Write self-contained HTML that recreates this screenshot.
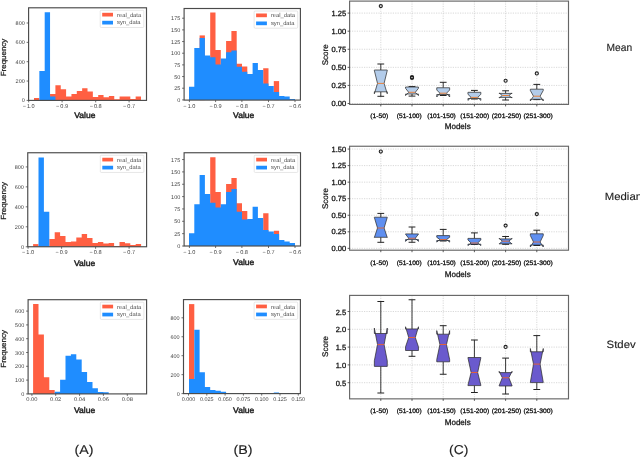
<!DOCTYPE html>
<html><head><meta charset="utf-8"><style>
html,body{margin:0;padding:0;background:#fff;width:640px;height:457px;overflow:hidden}
svg{display:block;will-change:transform}
text{font-family:"Liberation Sans", sans-serif;text-rendering:geometricPrecision}
</style></head><body>
<svg width="640" height="457" viewBox="0 0 640 457">
<rect width="640" height="457" fill="#fff"/>
<path d="M34,100.4 L34,98 L39.35,98 L39.35,100.4 Z" fill="#FF5F42"/>
<path d="M50.05,100.4 L50.05,94 L55.4,94 L55.4,85.25 L60.75,85.25 L60.75,89.25 L66.1,89.25 L66.1,96.4 L71.45,96.4 L71.45,94 L76.8,94 L76.8,91 L82.15,91 L82.15,88.25 L87.5,88.25 L87.5,91.5 L92.85,91.5 L92.85,97 L98.2,97 L98.2,94.9 L103.55,94.9 L103.55,97.25 L108.9,97.25 L108.9,96.1 L114.25,96.1 L114.25,99.25 L119.6,99.25 L119.6,96.4 L124.95,96.4 L124.95,96.4 L130.3,96.4 L130.3,99 L135.65,99 L135.65,96.4 L141,96.4 L141,100.4 Z" fill="#FF5F42"/>
<path d="M39.35,100.4 L39.35,71.1 L44.7,71.1 L44.7,12.25 L50.05,12.25 L50.05,96.4 L55.4,96.4 L55.4,100.4 Z" fill="#1F8DFF"/>
<rect x="28.6" y="7.8" width="117.9" height="92.6" fill="none" stroke="#4a4a4a" stroke-width="1.15"/>
<line x1="26.6" y1="100.4" x2="28.6" y2="100.4" stroke="#4a4a4a" stroke-width="0.8"/>
<text x="24.8" y="102.4" font-size="5.5" text-anchor="end" fill="#444">0</text>
<line x1="26.6" y1="81.05" x2="28.6" y2="81.05" stroke="#4a4a4a" stroke-width="0.8"/>
<text x="24.8" y="83.05" font-size="5.5" text-anchor="end" fill="#444">200</text>
<line x1="26.6" y1="61.7" x2="28.6" y2="61.7" stroke="#4a4a4a" stroke-width="0.8"/>
<text x="24.8" y="63.7" font-size="5.5" text-anchor="end" fill="#444">400</text>
<line x1="26.6" y1="42.35" x2="28.6" y2="42.35" stroke="#4a4a4a" stroke-width="0.8"/>
<text x="24.8" y="44.35" font-size="5.5" text-anchor="end" fill="#444">600</text>
<line x1="26.6" y1="23" x2="28.6" y2="23" stroke="#4a4a4a" stroke-width="0.8"/>
<text x="24.8" y="25" font-size="5.5" text-anchor="end" fill="#444">800</text>
<line x1="28.7" y1="100.4" x2="28.7" y2="102.4" stroke="#4a4a4a" stroke-width="0.8"/>
<text x="28.7" y="107.9" font-size="5.6" text-anchor="middle" fill="#444">−<tspan dx="1.0">1.0</tspan></text>
<line x1="62.1" y1="100.4" x2="62.1" y2="102.4" stroke="#4a4a4a" stroke-width="0.8"/>
<text x="62.1" y="107.9" font-size="5.6" text-anchor="middle" fill="#444">−<tspan dx="1.0">0.9</tspan></text>
<line x1="95.7" y1="100.4" x2="95.7" y2="102.4" stroke="#4a4a4a" stroke-width="0.8"/>
<text x="95.7" y="107.9" font-size="5.6" text-anchor="middle" fill="#444">−<tspan dx="1.0">0.8</tspan></text>
<line x1="129.1" y1="100.4" x2="129.1" y2="102.4" stroke="#4a4a4a" stroke-width="0.8"/>
<text x="129.1" y="107.9" font-size="5.6" text-anchor="middle" fill="#444">−<tspan dx="1.0">0.7</tspan></text>
<rect x="100.2" y="10.3" width="43.6" height="17.2" rx="1" fill="#fff" fill-opacity="0.85" stroke="#d6d6d6" stroke-width="0.6"/>
<rect x="102.2" y="12.8" width="10.8" height="3.7" fill="#FF5F42"/>
<rect x="102.2" y="20.8" width="10.8" height="3.7" fill="#1F8DFF"/>
<text x="117" y="16.7" font-size="5.8" text-anchor="start" fill="#505050">real_data</text>
<text x="117" y="24.3" font-size="5.8" text-anchor="start" fill="#505050">syn_data</text>
<text x="84.8" y="117.6" font-size="8.2" text-anchor="middle" fill="#222" textLength="21.2" lengthAdjust="spacingAndGlyphs" stroke="#222" stroke-width="0.42">Value</text>
<text x="0" y="0" font-size="7.4" text-anchor="middle" fill="#222" stroke="#222" stroke-width="0.25" textLength="37.6" lengthAdjust="spacingAndGlyphs" transform="translate(5.6,57.5) rotate(-90)">Frequency</text>
<path d="M33.1,246.75 L33.1,244.1 L38.5,244.1 L38.5,246.75 Z" fill="#FF5F42"/>
<path d="M49.3,246.75 L49.3,239.1 L54.7,239.1 L54.7,232.25 L60.1,232.25 L60.1,236 L65.5,236 L65.5,242 L70.9,242 L70.9,241.4 L76.3,241.4 L76.3,237.6 L81.7,237.6 L81.7,233.9 L87.1,233.9 L87.1,237.9 L92.5,237.9 L92.5,242.9 L97.9,242.9 L97.9,242 L103.3,242 L103.3,243.6 L108.7,243.6 L108.7,243 L114.1,243 L114.1,246 L119.5,246 L119.5,242 L124.9,242 L124.9,243.25 L130.3,243.25 L130.3,244.9 L135.7,244.9 L135.7,243.9 L141.1,243.9 L141.1,246.75 Z" fill="#FF5F42"/>
<path d="M38.5,246.75 L38.5,157.5 L43.9,157.5 L43.9,211.75 L49.3,211.75 L49.3,246.75 Z" fill="#1F8DFF"/>
<rect x="27.75" y="152.75" width="118.85" height="94" fill="none" stroke="#4a4a4a" stroke-width="1.15"/>
<line x1="25.75" y1="246.75" x2="27.75" y2="246.75" stroke="#4a4a4a" stroke-width="0.8"/>
<text x="23.95" y="248.75" font-size="5.5" text-anchor="end" fill="#444">0</text>
<line x1="25.75" y1="226.79" x2="27.75" y2="226.79" stroke="#4a4a4a" stroke-width="0.8"/>
<text x="23.95" y="228.79" font-size="5.5" text-anchor="end" fill="#444">200</text>
<line x1="25.75" y1="206.83" x2="27.75" y2="206.83" stroke="#4a4a4a" stroke-width="0.8"/>
<text x="23.95" y="208.83" font-size="5.5" text-anchor="end" fill="#444">400</text>
<line x1="25.75" y1="186.87" x2="27.75" y2="186.87" stroke="#4a4a4a" stroke-width="0.8"/>
<text x="23.95" y="188.87" font-size="5.5" text-anchor="end" fill="#444">600</text>
<line x1="25.75" y1="166.91" x2="27.75" y2="166.91" stroke="#4a4a4a" stroke-width="0.8"/>
<text x="23.95" y="168.91" font-size="5.5" text-anchor="end" fill="#444">800</text>
<line x1="28.1" y1="246.75" x2="28.1" y2="248.75" stroke="#4a4a4a" stroke-width="0.8"/>
<text x="28.1" y="254.25" font-size="5.6" text-anchor="middle" fill="#444">−<tspan dx="1.0">1.0</tspan></text>
<line x1="61.6" y1="246.75" x2="61.6" y2="248.75" stroke="#4a4a4a" stroke-width="0.8"/>
<text x="61.6" y="254.25" font-size="5.6" text-anchor="middle" fill="#444">−<tspan dx="1.0">0.9</tspan></text>
<line x1="95.6" y1="246.75" x2="95.6" y2="248.75" stroke="#4a4a4a" stroke-width="0.8"/>
<text x="95.6" y="254.25" font-size="5.6" text-anchor="middle" fill="#444">−<tspan dx="1.0">0.8</tspan></text>
<line x1="129.1" y1="246.75" x2="129.1" y2="248.75" stroke="#4a4a4a" stroke-width="0.8"/>
<text x="129.1" y="254.25" font-size="5.6" text-anchor="middle" fill="#444">−<tspan dx="1.0">0.7</tspan></text>
<rect x="100.3" y="155.25" width="43.6" height="17.2" rx="1" fill="#fff" fill-opacity="0.85" stroke="#d6d6d6" stroke-width="0.6"/>
<rect x="102.3" y="157.75" width="10.8" height="3.7" fill="#FF5F42"/>
<rect x="102.3" y="165.75" width="10.8" height="3.7" fill="#1F8DFF"/>
<text x="117.1" y="161.65" font-size="5.8" text-anchor="start" fill="#505050">real_data</text>
<text x="117.1" y="169.25" font-size="5.8" text-anchor="start" fill="#505050">syn_data</text>
<text x="84.6" y="265.8" font-size="8.2" text-anchor="middle" fill="#222" textLength="21.2" lengthAdjust="spacingAndGlyphs" stroke="#222" stroke-width="0.42">Value</text>
<text x="0" y="0" font-size="7.4" text-anchor="middle" fill="#222" stroke="#222" stroke-width="0.25" textLength="37.6" lengthAdjust="spacingAndGlyphs" transform="translate(5.6,200.9) rotate(-90)">Frequency</text>
<path d="M33.1,393.9 L33.1,304.1 L38.5,304.1 L38.5,334.6 L43.9,334.6 L43.9,377.25 L49.3,377.25 L49.3,390.1 L54.7,390.1 L54.7,393.9 Z" fill="#FF5F42"/>
<path d="M54.7,393.9 L54.7,391.75 L60.1,391.75 L60.1,379.75 L65.5,379.75 L65.5,355.75 L70.9,355.75 L70.9,354.25 L76.3,354.25 L76.3,359.5 L81.7,359.5 L81.7,372 L87.1,372 L87.1,382 L92.5,382 L92.5,388.25 L97.9,388.25 L97.9,392 L103.3,392 L103.3,392.25 L108.7,392.25 L108.7,393.9 Z" fill="#1F8DFF"/>
<rect x="28.1" y="299.7" width="118.5" height="94.2" fill="none" stroke="#4a4a4a" stroke-width="1.15"/>
<line x1="26.1" y1="393.9" x2="28.1" y2="393.9" stroke="#4a4a4a" stroke-width="0.8"/>
<text x="24.3" y="395.9" font-size="5.5" text-anchor="end" fill="#444">0</text>
<line x1="26.1" y1="380.1" x2="28.1" y2="380.1" stroke="#4a4a4a" stroke-width="0.8"/>
<text x="24.3" y="382.1" font-size="5.5" text-anchor="end" fill="#444">100</text>
<line x1="26.1" y1="366.3" x2="28.1" y2="366.3" stroke="#4a4a4a" stroke-width="0.8"/>
<text x="24.3" y="368.3" font-size="5.5" text-anchor="end" fill="#444">200</text>
<line x1="26.1" y1="352.5" x2="28.1" y2="352.5" stroke="#4a4a4a" stroke-width="0.8"/>
<text x="24.3" y="354.5" font-size="5.5" text-anchor="end" fill="#444">300</text>
<line x1="26.1" y1="338.7" x2="28.1" y2="338.7" stroke="#4a4a4a" stroke-width="0.8"/>
<text x="24.3" y="340.7" font-size="5.5" text-anchor="end" fill="#444">400</text>
<line x1="26.1" y1="324.9" x2="28.1" y2="324.9" stroke="#4a4a4a" stroke-width="0.8"/>
<text x="24.3" y="326.9" font-size="5.5" text-anchor="end" fill="#444">500</text>
<line x1="26.1" y1="311.1" x2="28.1" y2="311.1" stroke="#4a4a4a" stroke-width="0.8"/>
<text x="24.3" y="313.1" font-size="5.5" text-anchor="end" fill="#444">600</text>
<line x1="31.9" y1="393.9" x2="31.9" y2="395.9" stroke="#4a4a4a" stroke-width="0.8"/>
<text x="31.9" y="401.4" font-size="5.4" text-anchor="middle" fill="#444" textLength="11.2" lengthAdjust="spacingAndGlyphs">0.00</text>
<line x1="55.7" y1="393.9" x2="55.7" y2="395.9" stroke="#4a4a4a" stroke-width="0.8"/>
<text x="55.7" y="401.4" font-size="5.4" text-anchor="middle" fill="#444" textLength="11.2" lengthAdjust="spacingAndGlyphs">0.02</text>
<line x1="79.6" y1="393.9" x2="79.6" y2="395.9" stroke="#4a4a4a" stroke-width="0.8"/>
<text x="79.6" y="401.4" font-size="5.4" text-anchor="middle" fill="#444" textLength="11.2" lengthAdjust="spacingAndGlyphs">0.04</text>
<line x1="103.4" y1="393.9" x2="103.4" y2="395.9" stroke="#4a4a4a" stroke-width="0.8"/>
<text x="103.4" y="401.4" font-size="5.4" text-anchor="middle" fill="#444" textLength="11.2" lengthAdjust="spacingAndGlyphs">0.06</text>
<line x1="127.3" y1="393.9" x2="127.3" y2="395.9" stroke="#4a4a4a" stroke-width="0.8"/>
<text x="127.3" y="401.4" font-size="5.4" text-anchor="middle" fill="#444" textLength="11.2" lengthAdjust="spacingAndGlyphs">0.08</text>
<rect x="100.3" y="302.2" width="43.6" height="17.2" rx="1" fill="#fff" fill-opacity="0.85" stroke="#d6d6d6" stroke-width="0.6"/>
<rect x="102.3" y="304.7" width="10.8" height="3.7" fill="#FF5F42"/>
<rect x="102.3" y="312.7" width="10.8" height="3.7" fill="#1F8DFF"/>
<text x="117.1" y="308.6" font-size="5.8" text-anchor="start" fill="#505050">real_data</text>
<text x="117.1" y="316.2" font-size="5.8" text-anchor="start" fill="#505050">syn_data</text>
<text x="84.6" y="413.3" font-size="8.2" text-anchor="middle" fill="#222" textLength="21.2" lengthAdjust="spacingAndGlyphs" stroke="#222" stroke-width="0.42">Value</text>
<text x="0" y="0" font-size="7.4" text-anchor="middle" fill="#222" stroke="#222" stroke-width="0.25" textLength="37.6" lengthAdjust="spacingAndGlyphs" transform="translate(5.6,348.9) rotate(-90)">Frequency</text>
<path d="M199.6,100.1 L199.6,35.4 L204.9,35.4 L204.9,100.1 Z" fill="#FF5F42"/>
<path d="M210.2,100.1 L210.2,12.5 L215.5,12.5 L215.5,49.9 L220.8,49.9 L220.8,100.1 Z" fill="#FF5F42"/>
<path d="M226.1,100.1 L226.1,41 L231.4,41 L231.4,31.1 L236.7,31.1 L236.7,63.8 L242,63.8 L242,66.4 L247.3,66.4 L247.3,100.1 Z" fill="#FF5F42"/>
<path d="M263.2,100.1 L263.2,68.25 L268.5,68.25 L268.5,100.1 Z" fill="#FF5F42"/>
<path d="M273.8,100.1 L273.8,81.1 L279.1,81.1 L279.1,100.1 Z" fill="#FF5F42"/>
<path d="M189,100.1 L189,86.75 L194.3,86.75 L194.3,47.9 L199.6,47.9 L199.6,37.9 L204.9,37.9 L204.9,55.4 L210.2,55.4 L210.2,57.3 L215.5,57.3 L215.5,64.4 L220.8,64.4 L220.8,58.6 L226.1,58.6 L226.1,52.3 L231.4,52.3 L231.4,50.4 L236.7,50.4 L236.7,66.8 L242,66.8 L242,71.75 L247.3,71.75 L247.3,74.1 L252.6,74.1 L252.6,63.1 L257.9,63.1 L257.9,69.9 L263.2,69.9 L263.2,83.5 L268.5,83.5 L268.5,86 L273.8,86 L273.8,92 L279.1,92 L279.1,96 L284.4,96 L284.4,96.4 L289.7,96.4 L289.7,99 L295,99 L295,100.1 Z" fill="#1F8DFF"/>
<rect x="184.1" y="8.5" width="116.3" height="91.6" fill="none" stroke="#4a4a4a" stroke-width="1.15"/>
<line x1="182.1" y1="99.9" x2="184.1" y2="99.9" stroke="#4a4a4a" stroke-width="0.8"/>
<text x="180.3" y="101.9" font-size="5.5" text-anchor="end" fill="#444">0</text>
<line x1="182.1" y1="88.23" x2="184.1" y2="88.23" stroke="#4a4a4a" stroke-width="0.8"/>
<text x="180.3" y="90.23" font-size="5.5" text-anchor="end" fill="#444">25</text>
<line x1="182.1" y1="76.56" x2="184.1" y2="76.56" stroke="#4a4a4a" stroke-width="0.8"/>
<text x="180.3" y="78.56" font-size="5.5" text-anchor="end" fill="#444">50</text>
<line x1="182.1" y1="64.89" x2="184.1" y2="64.89" stroke="#4a4a4a" stroke-width="0.8"/>
<text x="180.3" y="66.89" font-size="5.5" text-anchor="end" fill="#444">75</text>
<line x1="182.1" y1="53.22" x2="184.1" y2="53.22" stroke="#4a4a4a" stroke-width="0.8"/>
<text x="180.3" y="55.22" font-size="5.5" text-anchor="end" fill="#444">100</text>
<line x1="182.1" y1="41.55" x2="184.1" y2="41.55" stroke="#4a4a4a" stroke-width="0.8"/>
<text x="180.3" y="43.55" font-size="5.5" text-anchor="end" fill="#444">125</text>
<line x1="182.1" y1="29.88" x2="184.1" y2="29.88" stroke="#4a4a4a" stroke-width="0.8"/>
<text x="180.3" y="31.88" font-size="5.5" text-anchor="end" fill="#444">150</text>
<line x1="182.1" y1="18.21" x2="184.1" y2="18.21" stroke="#4a4a4a" stroke-width="0.8"/>
<text x="180.3" y="20.21" font-size="5.5" text-anchor="end" fill="#444">175</text>
<line x1="189.4" y1="100.1" x2="189.4" y2="102.1" stroke="#4a4a4a" stroke-width="0.8"/>
<text x="189.4" y="107.6" font-size="5.6" text-anchor="middle" fill="#444">−<tspan dx="1.0">1.0</tspan></text>
<line x1="215.6" y1="100.1" x2="215.6" y2="102.1" stroke="#4a4a4a" stroke-width="0.8"/>
<text x="215.6" y="107.6" font-size="5.6" text-anchor="middle" fill="#444">−<tspan dx="1.0">0.9</tspan></text>
<line x1="241.9" y1="100.1" x2="241.9" y2="102.1" stroke="#4a4a4a" stroke-width="0.8"/>
<text x="241.9" y="107.6" font-size="5.6" text-anchor="middle" fill="#444">−<tspan dx="1.0">0.8</tspan></text>
<line x1="268.5" y1="100.1" x2="268.5" y2="102.1" stroke="#4a4a4a" stroke-width="0.8"/>
<text x="268.5" y="107.6" font-size="5.6" text-anchor="middle" fill="#444">−<tspan dx="1.0">0.7</tspan></text>
<line x1="295" y1="100.1" x2="295" y2="102.1" stroke="#4a4a4a" stroke-width="0.8"/>
<text x="295" y="107.6" font-size="5.6" text-anchor="middle" fill="#444">−<tspan dx="1.0">0.6</tspan></text>
<rect x="254.1" y="11" width="43.6" height="17.2" rx="1" fill="#fff" fill-opacity="0.85" stroke="#d6d6d6" stroke-width="0.6"/>
<rect x="256.1" y="13.5" width="10.8" height="3.7" fill="#FF5F42"/>
<rect x="256.1" y="21.5" width="10.8" height="3.7" fill="#1F8DFF"/>
<text x="270.9" y="17.4" font-size="5.8" text-anchor="start" fill="#505050">real_data</text>
<text x="270.9" y="25" font-size="5.8" text-anchor="start" fill="#505050">syn_data</text>
<text x="243.7" y="117.6" font-size="8.2" text-anchor="middle" fill="#222" textLength="21.2" lengthAdjust="spacingAndGlyphs" stroke="#222" stroke-width="0.42">Value</text>
<text x="0" y="0" font-size="7.4" text-anchor="middle" fill="#222" stroke="#222" stroke-width="0.25" textLength="37.6" lengthAdjust="spacingAndGlyphs" transform="translate(5.6,-100) rotate(-90)">Frequency</text>
<path d="M210.2,246 L210.2,157.25 L215.5,157.25 L215.5,192.1 L220.8,192.1 L220.8,246 Z" fill="#FF5F42"/>
<path d="M226.1,246 L226.1,183.9 L231.4,183.9 L231.4,178 L236.7,178 L236.7,203.25 L242,203.25 L242,211.1 L247.3,211.1 L247.3,246 Z" fill="#FF5F42"/>
<path d="M263.2,246 L263.2,213.25 L268.5,213.25 L268.5,246 Z" fill="#FF5F42"/>
<path d="M273.8,246 L273.8,230.75 L279.1,230.75 L279.1,246 Z" fill="#FF5F42"/>
<path d="M189,246 L189,233.25 L194.3,233.25 L194.3,204.25 L199.6,204.25 L199.6,175.1 L204.9,175.1 L204.9,194.1 L210.2,194.1 L210.2,202.7 L215.5,202.7 L215.5,207.6 L220.8,207.6 L220.8,204.3 L226.1,204.3 L226.1,192.1 L231.4,192.1 L231.4,189.1 L236.7,189.1 L236.7,211.75 L242,211.75 L242,219.5 L247.3,219.5 L247.3,218.9 L252.6,218.9 L252.6,206.8 L257.9,206.8 L257.9,218 L263.2,218 L263.2,230.1 L268.5,230.1 L268.5,231.4 L273.8,231.4 L273.8,233.9 L279.1,233.9 L279.1,240.1 L284.4,240.1 L284.4,241.4 L289.7,241.4 L289.7,243 L295,243 L295,246 Z" fill="#1F8DFF"/>
<rect x="184.1" y="152.75" width="116.4" height="93.25" fill="none" stroke="#4a4a4a" stroke-width="1.15"/>
<line x1="182.1" y1="246" x2="184.1" y2="246" stroke="#4a4a4a" stroke-width="0.8"/>
<text x="180.3" y="248" font-size="5.5" text-anchor="end" fill="#444">0</text>
<line x1="182.1" y1="233.65" x2="184.1" y2="233.65" stroke="#4a4a4a" stroke-width="0.8"/>
<text x="180.3" y="235.65" font-size="5.5" text-anchor="end" fill="#444">25</text>
<line x1="182.1" y1="221.3" x2="184.1" y2="221.3" stroke="#4a4a4a" stroke-width="0.8"/>
<text x="180.3" y="223.3" font-size="5.5" text-anchor="end" fill="#444">50</text>
<line x1="182.1" y1="208.95" x2="184.1" y2="208.95" stroke="#4a4a4a" stroke-width="0.8"/>
<text x="180.3" y="210.95" font-size="5.5" text-anchor="end" fill="#444">75</text>
<line x1="182.1" y1="196.6" x2="184.1" y2="196.6" stroke="#4a4a4a" stroke-width="0.8"/>
<text x="180.3" y="198.6" font-size="5.5" text-anchor="end" fill="#444">100</text>
<line x1="182.1" y1="184.25" x2="184.1" y2="184.25" stroke="#4a4a4a" stroke-width="0.8"/>
<text x="180.3" y="186.25" font-size="5.5" text-anchor="end" fill="#444">125</text>
<line x1="182.1" y1="171.9" x2="184.1" y2="171.9" stroke="#4a4a4a" stroke-width="0.8"/>
<text x="180.3" y="173.9" font-size="5.5" text-anchor="end" fill="#444">150</text>
<line x1="182.1" y1="159.55" x2="184.1" y2="159.55" stroke="#4a4a4a" stroke-width="0.8"/>
<text x="180.3" y="161.55" font-size="5.5" text-anchor="end" fill="#444">175</text>
<line x1="189.4" y1="246" x2="189.4" y2="248" stroke="#4a4a4a" stroke-width="0.8"/>
<text x="189.4" y="253.5" font-size="5.6" text-anchor="middle" fill="#444">−<tspan dx="1.0">1.0</tspan></text>
<line x1="215.6" y1="246" x2="215.6" y2="248" stroke="#4a4a4a" stroke-width="0.8"/>
<text x="215.6" y="253.5" font-size="5.6" text-anchor="middle" fill="#444">−<tspan dx="1.0">0.9</tspan></text>
<line x1="241.9" y1="246" x2="241.9" y2="248" stroke="#4a4a4a" stroke-width="0.8"/>
<text x="241.9" y="253.5" font-size="5.6" text-anchor="middle" fill="#444">−<tspan dx="1.0">0.8</tspan></text>
<line x1="268.5" y1="246" x2="268.5" y2="248" stroke="#4a4a4a" stroke-width="0.8"/>
<text x="268.5" y="253.5" font-size="5.6" text-anchor="middle" fill="#444">−<tspan dx="1.0">0.7</tspan></text>
<line x1="295" y1="246" x2="295" y2="248" stroke="#4a4a4a" stroke-width="0.8"/>
<text x="295" y="253.5" font-size="5.6" text-anchor="middle" fill="#444">−<tspan dx="1.0">0.6</tspan></text>
<rect x="254.2" y="155.25" width="43.6" height="17.2" rx="1" fill="#fff" fill-opacity="0.85" stroke="#d6d6d6" stroke-width="0.6"/>
<rect x="256.2" y="157.75" width="10.8" height="3.7" fill="#FF5F42"/>
<rect x="256.2" y="165.75" width="10.8" height="3.7" fill="#1F8DFF"/>
<text x="271" y="161.65" font-size="5.8" text-anchor="start" fill="#505050">real_data</text>
<text x="271" y="169.25" font-size="5.8" text-anchor="start" fill="#505050">syn_data</text>
<text x="243.7" y="265.2" font-size="8.2" text-anchor="middle" fill="#222" textLength="21.2" lengthAdjust="spacingAndGlyphs" stroke="#222" stroke-width="0.42">Value</text>
<text x="0" y="0" font-size="7.4" text-anchor="middle" fill="#222" stroke="#222" stroke-width="0.25" textLength="37.6" lengthAdjust="spacingAndGlyphs" transform="translate(5.6,-100) rotate(-90)">Frequency</text>
<path d="M189,393.6 L189,304.1 L194.3,304.1 L194.3,393.6 Z" fill="#FF5F42"/>
<path d="M189,393.6 L189,378.9 L194.3,378.9 L194.3,329.75 L199.6,329.75 L199.6,372.25 L204.9,372.25 L204.9,387 L210.2,387 L210.2,390.1 L215.5,390.1 L215.5,390.75 L220.8,390.75 L220.8,391.75 L226.1,391.75 L226.1,393 L231.4,393 L231.4,393.1 L236.7,393.1 L236.7,393.1 L242,393.1 L242,393.2 L247.3,393.2 L247.3,393.2 L252.6,393.2 L252.6,393.2 L257.9,393.2 L257.9,393.2 L263.2,393.2 L263.2,393.2 L268.5,393.2 L268.5,393.2 L273.8,393.2 L273.8,392.6 L279.1,392.6 L279.1,393.2 L284.4,393.2 L284.4,393.1 L289.7,393.1 L289.7,393.2 L295,393.2 L295,393.6 Z" fill="#1F8DFF"/>
<rect x="183.5" y="299.6" width="116.9" height="94" fill="none" stroke="#4a4a4a" stroke-width="1.15"/>
<line x1="181.5" y1="393.6" x2="183.5" y2="393.6" stroke="#4a4a4a" stroke-width="0.8"/>
<text x="179.7" y="395.6" font-size="5.5" text-anchor="end" fill="#444">0</text>
<line x1="181.5" y1="374.65" x2="183.5" y2="374.65" stroke="#4a4a4a" stroke-width="0.8"/>
<text x="179.7" y="376.65" font-size="5.5" text-anchor="end" fill="#444">200</text>
<line x1="181.5" y1="355.7" x2="183.5" y2="355.7" stroke="#4a4a4a" stroke-width="0.8"/>
<text x="179.7" y="357.7" font-size="5.5" text-anchor="end" fill="#444">400</text>
<line x1="181.5" y1="336.75" x2="183.5" y2="336.75" stroke="#4a4a4a" stroke-width="0.8"/>
<text x="179.7" y="338.75" font-size="5.5" text-anchor="end" fill="#444">600</text>
<line x1="181.5" y1="317.8" x2="183.5" y2="317.8" stroke="#4a4a4a" stroke-width="0.8"/>
<text x="179.7" y="319.8" font-size="5.5" text-anchor="end" fill="#444">800</text>
<line x1="188.5" y1="393.6" x2="188.5" y2="395.6" stroke="#4a4a4a" stroke-width="0.8"/>
<text x="188.5" y="401.1" font-size="5.4" text-anchor="middle" fill="#444" textLength="13.6" lengthAdjust="spacingAndGlyphs">0.000</text>
<line x1="206.8" y1="393.6" x2="206.8" y2="395.6" stroke="#4a4a4a" stroke-width="0.8"/>
<text x="206.8" y="401.1" font-size="5.4" text-anchor="middle" fill="#444" textLength="13.6" lengthAdjust="spacingAndGlyphs">0.025</text>
<line x1="225.1" y1="393.6" x2="225.1" y2="395.6" stroke="#4a4a4a" stroke-width="0.8"/>
<text x="225.1" y="401.1" font-size="5.4" text-anchor="middle" fill="#444" textLength="13.6" lengthAdjust="spacingAndGlyphs">0.050</text>
<line x1="243.4" y1="393.6" x2="243.4" y2="395.6" stroke="#4a4a4a" stroke-width="0.8"/>
<text x="243.4" y="401.1" font-size="5.4" text-anchor="middle" fill="#444" textLength="13.6" lengthAdjust="spacingAndGlyphs">0.075</text>
<line x1="261.7" y1="393.6" x2="261.7" y2="395.6" stroke="#4a4a4a" stroke-width="0.8"/>
<text x="261.7" y="401.1" font-size="5.4" text-anchor="middle" fill="#444" textLength="13.6" lengthAdjust="spacingAndGlyphs">0.100</text>
<line x1="280" y1="393.6" x2="280" y2="395.6" stroke="#4a4a4a" stroke-width="0.8"/>
<text x="280" y="401.1" font-size="5.4" text-anchor="middle" fill="#444" textLength="13.6" lengthAdjust="spacingAndGlyphs">0.125</text>
<line x1="298.3" y1="393.6" x2="298.3" y2="395.6" stroke="#4a4a4a" stroke-width="0.8"/>
<text x="298.3" y="401.1" font-size="5.4" text-anchor="middle" fill="#444" textLength="13.6" lengthAdjust="spacingAndGlyphs">0.150</text>
<rect x="254.1" y="302.1" width="43.6" height="17.2" rx="1" fill="#fff" fill-opacity="0.85" stroke="#d6d6d6" stroke-width="0.6"/>
<rect x="256.1" y="304.6" width="10.8" height="3.7" fill="#FF5F42"/>
<rect x="256.1" y="312.6" width="10.8" height="3.7" fill="#1F8DFF"/>
<text x="270.9" y="308.5" font-size="5.8" text-anchor="start" fill="#505050">real_data</text>
<text x="270.9" y="316.1" font-size="5.8" text-anchor="start" fill="#505050">syn_data</text>
<text x="243.7" y="413.3" font-size="8.2" text-anchor="middle" fill="#222" textLength="21.2" lengthAdjust="spacingAndGlyphs" stroke="#222" stroke-width="0.42">Value</text>
<text x="0" y="0" font-size="7.4" text-anchor="middle" fill="#222" stroke="#222" stroke-width="0.25" textLength="37.6" lengthAdjust="spacingAndGlyphs" transform="translate(5.6,-100) rotate(-90)">Frequency</text>
<line x1="349.6" y1="103.5" x2="568.5" y2="103.5" stroke="#c8c8c8" stroke-width="0.7" stroke-dasharray="1.2,1.2"/>
<line x1="349.6" y1="85.42" x2="568.5" y2="85.42" stroke="#c8c8c8" stroke-width="0.7" stroke-dasharray="1.2,1.2"/>
<line x1="349.6" y1="67.34" x2="568.5" y2="67.34" stroke="#c8c8c8" stroke-width="0.7" stroke-dasharray="1.2,1.2"/>
<line x1="349.6" y1="49.26" x2="568.5" y2="49.26" stroke="#c8c8c8" stroke-width="0.7" stroke-dasharray="1.2,1.2"/>
<line x1="349.6" y1="31.18" x2="568.5" y2="31.18" stroke="#c8c8c8" stroke-width="0.7" stroke-dasharray="1.2,1.2"/>
<line x1="349.6" y1="13.1" x2="568.5" y2="13.1" stroke="#c8c8c8" stroke-width="0.7" stroke-dasharray="1.2,1.2"/>
<line x1="380.8" y1="1.1" x2="380.8" y2="104.4" stroke="#c8c8c8" stroke-width="0.7" stroke-dasharray="1.2,1.2"/>
<line x1="412" y1="1.1" x2="412" y2="104.4" stroke="#c8c8c8" stroke-width="0.7" stroke-dasharray="1.2,1.2"/>
<line x1="443.2" y1="1.1" x2="443.2" y2="104.4" stroke="#c8c8c8" stroke-width="0.7" stroke-dasharray="1.2,1.2"/>
<line x1="474.4" y1="1.1" x2="474.4" y2="104.4" stroke="#c8c8c8" stroke-width="0.7" stroke-dasharray="1.2,1.2"/>
<line x1="505.6" y1="1.1" x2="505.6" y2="104.4" stroke="#c8c8c8" stroke-width="0.7" stroke-dasharray="1.2,1.2"/>
<line x1="536.8" y1="1.1" x2="536.8" y2="104.4" stroke="#c8c8c8" stroke-width="0.7" stroke-dasharray="1.2,1.2"/>
<line x1="380.8" y1="64" x2="380.8" y2="70" stroke="#222" stroke-width="0.9"/>
<line x1="380.8" y1="91.8" x2="380.8" y2="96.3" stroke="#222" stroke-width="0.9"/>
<line x1="377.4" y1="64" x2="384.2" y2="64" stroke="#222" stroke-width="1"/>
<line x1="377.4" y1="96.3" x2="384.2" y2="96.3" stroke="#222" stroke-width="1"/>
<polygon points="374.35,91.8 374.35,93.8 377.5,83.4 374.35,70.5 374.35,70 387.25,70 387.25,70.5 384.1,83.4 387.25,93.8 387.25,91.8" fill="#B3CCEA" stroke="#2a2a2a" stroke-width="0.72" stroke-linejoin="miter"/>
<line x1="377.5" y1="83.4" x2="384.1" y2="83.4" stroke="#E8823C" stroke-width="1"/>
<circle cx="380.8" cy="6.1" r="1.55" fill="none" stroke="#222" stroke-width="1.15"/>
<line x1="412" y1="86.6" x2="412" y2="87" stroke="#222" stroke-width="0.9"/>
<line x1="412" y1="94" x2="412" y2="96.1" stroke="#222" stroke-width="0.9"/>
<line x1="408.6" y1="86.6" x2="415.4" y2="86.6" stroke="#222" stroke-width="1"/>
<line x1="408.6" y1="96.1" x2="415.4" y2="96.1" stroke="#222" stroke-width="1"/>
<polygon points="405.55,94 405.55,95.6 408.7,92.3 405.55,88.3 405.55,87 418.45,87 418.45,88.3 415.3,92.3 418.45,95.6 418.45,94" fill="#B3CCEA" stroke="#2a2a2a" stroke-width="0.72" stroke-linejoin="miter"/>
<line x1="408.7" y1="92.3" x2="415.3" y2="92.3" stroke="#E8823C" stroke-width="1"/>
<circle cx="412" cy="77.9" r="1.55" fill="none" stroke="#222" stroke-width="1.15"/>
<circle cx="412" cy="77.1" r="1.55" fill="none" stroke="#222" stroke-width="1.15"/>
<line x1="443.2" y1="82.3" x2="443.2" y2="87.75" stroke="#222" stroke-width="0.9"/>
<line x1="443.2" y1="94.5" x2="443.2" y2="95.5" stroke="#222" stroke-width="0.9"/>
<line x1="439.8" y1="82.3" x2="446.6" y2="82.3" stroke="#222" stroke-width="1"/>
<line x1="439.8" y1="95.5" x2="446.6" y2="95.5" stroke="#222" stroke-width="1"/>
<polygon points="436.75,94.5 436.75,97 439.9,93.2 436.75,90 436.75,87.75 449.65,87.75 449.65,90 446.5,93.2 449.65,97 449.65,94.5" fill="#B3CCEA" stroke="#2a2a2a" stroke-width="0.72" stroke-linejoin="miter"/>
<line x1="439.9" y1="93.2" x2="446.5" y2="93.2" stroke="#E8823C" stroke-width="1"/>
<line x1="474.4" y1="90.4" x2="474.4" y2="92.3" stroke="#222" stroke-width="0.9"/>
<line x1="474.4" y1="98.5" x2="474.4" y2="99" stroke="#222" stroke-width="0.9"/>
<line x1="471" y1="90.4" x2="477.8" y2="90.4" stroke="#222" stroke-width="1"/>
<line x1="471" y1="99" x2="477.8" y2="99" stroke="#222" stroke-width="1"/>
<polygon points="467.95,98.5 467.95,100.4 471.1,97.4 467.95,94.3 467.95,92.3 480.85,92.3 480.85,94.3 477.7,97.4 480.85,100.4 480.85,98.5" fill="#B3CCEA" stroke="#2a2a2a" stroke-width="0.72" stroke-linejoin="miter"/>
<line x1="471.1" y1="97.4" x2="477.7" y2="97.4" stroke="#E8823C" stroke-width="1"/>
<line x1="505.6" y1="90.8" x2="505.6" y2="93.4" stroke="#222" stroke-width="0.9"/>
<line x1="505.6" y1="97.4" x2="505.6" y2="100" stroke="#222" stroke-width="0.9"/>
<line x1="502.2" y1="90.8" x2="509" y2="90.8" stroke="#222" stroke-width="1"/>
<line x1="502.2" y1="100" x2="509" y2="100" stroke="#222" stroke-width="1"/>
<polygon points="499.15,97.4 499.15,98 502.3,95.5 499.15,93 499.15,93.4 512.05,93.4 512.05,93 508.9,95.5 512.05,98 512.05,97.4" fill="#B3CCEA" stroke="#2a2a2a" stroke-width="0.72" stroke-linejoin="miter"/>
<line x1="502.3" y1="95.5" x2="508.9" y2="95.5" stroke="#E8823C" stroke-width="1"/>
<circle cx="505.6" cy="80.75" r="1.55" fill="none" stroke="#222" stroke-width="1.15"/>
<line x1="536.8" y1="84.4" x2="536.8" y2="89.2" stroke="#222" stroke-width="0.9"/>
<line x1="536.8" y1="99.3" x2="536.8" y2="99.6" stroke="#222" stroke-width="0.9"/>
<line x1="533.4" y1="84.4" x2="540.2" y2="84.4" stroke="#222" stroke-width="1"/>
<line x1="533.4" y1="99.6" x2="540.2" y2="99.6" stroke="#222" stroke-width="1"/>
<polygon points="530.35,99.3 530.35,101 533.5,96.2 530.35,90.5 530.35,89.2 543.25,89.2 543.25,90.5 540.1,96.2 543.25,101 543.25,99.3" fill="#B3CCEA" stroke="#2a2a2a" stroke-width="0.72" stroke-linejoin="miter"/>
<line x1="533.5" y1="96.2" x2="540.1" y2="96.2" stroke="#E8823C" stroke-width="1"/>
<circle cx="536.8" cy="73.4" r="1.55" fill="none" stroke="#222" stroke-width="1.15"/>
<rect x="349.6" y="1.1" width="218.9" height="103.3" fill="none" stroke="#666" stroke-width="1.15"/>
<line x1="347.6" y1="103.5" x2="349.6" y2="103.5" stroke="#333" stroke-width="0.8"/>
<text x="346.1" y="106.15" font-size="7.5" text-anchor="end" fill="#111" stroke="#111" stroke-width="0.28">0.00</text>
<line x1="347.6" y1="85.42" x2="349.6" y2="85.42" stroke="#333" stroke-width="0.8"/>
<text x="346.1" y="88.07" font-size="7.5" text-anchor="end" fill="#111" stroke="#111" stroke-width="0.28">0.25</text>
<line x1="347.6" y1="67.34" x2="349.6" y2="67.34" stroke="#333" stroke-width="0.8"/>
<text x="346.1" y="69.99" font-size="7.5" text-anchor="end" fill="#111" stroke="#111" stroke-width="0.28">0.50</text>
<line x1="347.6" y1="49.26" x2="349.6" y2="49.26" stroke="#333" stroke-width="0.8"/>
<text x="346.1" y="51.91" font-size="7.5" text-anchor="end" fill="#111" stroke="#111" stroke-width="0.28">0.75</text>
<line x1="347.6" y1="31.18" x2="349.6" y2="31.18" stroke="#333" stroke-width="0.8"/>
<text x="346.1" y="33.83" font-size="7.5" text-anchor="end" fill="#111" stroke="#111" stroke-width="0.28">1.00</text>
<line x1="347.6" y1="13.1" x2="349.6" y2="13.1" stroke="#333" stroke-width="0.8"/>
<text x="346.1" y="15.75" font-size="7.5" text-anchor="end" fill="#111" stroke="#111" stroke-width="0.28">1.25</text>
<line x1="380.8" y1="104.4" x2="380.8" y2="106.4" stroke="#333" stroke-width="0.8"/>
<line x1="412" y1="104.4" x2="412" y2="106.4" stroke="#333" stroke-width="0.8"/>
<line x1="443.2" y1="104.4" x2="443.2" y2="106.4" stroke="#333" stroke-width="0.8"/>
<line x1="474.4" y1="104.4" x2="474.4" y2="106.4" stroke="#333" stroke-width="0.8"/>
<line x1="505.6" y1="104.4" x2="505.6" y2="106.4" stroke="#333" stroke-width="0.8"/>
<line x1="536.8" y1="104.4" x2="536.8" y2="106.4" stroke="#333" stroke-width="0.8"/>
<text x="379.3" y="118.1" font-size="6.4" text-anchor="middle" fill="#111" textLength="18" lengthAdjust="spacingAndGlyphs" stroke="#111" stroke-width="0.28">(1-50)</text>
<text x="409.25" y="118.1" font-size="6.4" text-anchor="middle" fill="#111" textLength="24.9" lengthAdjust="spacingAndGlyphs" stroke="#111" stroke-width="0.28">(51-100)</text>
<text x="441.5" y="118.1" font-size="6.4" text-anchor="middle" fill="#111" textLength="28.6" lengthAdjust="spacingAndGlyphs" stroke="#111" stroke-width="0.28">(101-150)</text>
<text x="474.75" y="118.1" font-size="6.4" text-anchor="middle" fill="#111" textLength="28.9" lengthAdjust="spacingAndGlyphs" stroke="#111" stroke-width="0.28">(151-200)</text>
<text x="506.6" y="118.1" font-size="6.4" text-anchor="middle" fill="#111" textLength="29.6" lengthAdjust="spacingAndGlyphs" stroke="#111" stroke-width="0.28">(201-250)</text>
<text x="538.1" y="118.1" font-size="6.4" text-anchor="middle" fill="#111" textLength="29.4" lengthAdjust="spacingAndGlyphs" stroke="#111" stroke-width="0.28">(251-300)</text>
<text x="457.7" y="129.3" font-size="8" text-anchor="middle" fill="#222" textLength="26" lengthAdjust="spacingAndGlyphs" stroke="#111" stroke-width="0.28">Models</text>
<text x="0" y="0" font-size="8.1" text-anchor="middle" fill="#222" stroke="#222" stroke-width="0.25" textLength="21" lengthAdjust="spacingAndGlyphs" transform="translate(327.9,54.8) rotate(-90)">Score</text>
<line x1="349.6" y1="248.35" x2="568.5" y2="248.35" stroke="#c8c8c8" stroke-width="0.7" stroke-dasharray="1.2,1.2"/>
<line x1="349.6" y1="231.8" x2="568.5" y2="231.8" stroke="#c8c8c8" stroke-width="0.7" stroke-dasharray="1.2,1.2"/>
<line x1="349.6" y1="215.25" x2="568.5" y2="215.25" stroke="#c8c8c8" stroke-width="0.7" stroke-dasharray="1.2,1.2"/>
<line x1="349.6" y1="198.7" x2="568.5" y2="198.7" stroke="#c8c8c8" stroke-width="0.7" stroke-dasharray="1.2,1.2"/>
<line x1="349.6" y1="182.15" x2="568.5" y2="182.15" stroke="#c8c8c8" stroke-width="0.7" stroke-dasharray="1.2,1.2"/>
<line x1="349.6" y1="165.6" x2="568.5" y2="165.6" stroke="#c8c8c8" stroke-width="0.7" stroke-dasharray="1.2,1.2"/>
<line x1="349.6" y1="149.05" x2="568.5" y2="149.05" stroke="#c8c8c8" stroke-width="0.7" stroke-dasharray="1.2,1.2"/>
<line x1="380.8" y1="146.25" x2="380.8" y2="250.2" stroke="#c8c8c8" stroke-width="0.7" stroke-dasharray="1.2,1.2"/>
<line x1="412" y1="146.25" x2="412" y2="250.2" stroke="#c8c8c8" stroke-width="0.7" stroke-dasharray="1.2,1.2"/>
<line x1="443.2" y1="146.25" x2="443.2" y2="250.2" stroke="#c8c8c8" stroke-width="0.7" stroke-dasharray="1.2,1.2"/>
<line x1="474.4" y1="146.25" x2="474.4" y2="250.2" stroke="#c8c8c8" stroke-width="0.7" stroke-dasharray="1.2,1.2"/>
<line x1="505.6" y1="146.25" x2="505.6" y2="250.2" stroke="#c8c8c8" stroke-width="0.7" stroke-dasharray="1.2,1.2"/>
<line x1="536.8" y1="146.25" x2="536.8" y2="250.2" stroke="#c8c8c8" stroke-width="0.7" stroke-dasharray="1.2,1.2"/>
<line x1="380.8" y1="213.4" x2="380.8" y2="217.2" stroke="#222" stroke-width="0.9"/>
<line x1="380.8" y1="237.3" x2="380.8" y2="242.3" stroke="#222" stroke-width="0.9"/>
<line x1="377.4" y1="213.4" x2="384.2" y2="213.4" stroke="#222" stroke-width="1"/>
<line x1="377.4" y1="242.3" x2="384.2" y2="242.3" stroke="#222" stroke-width="1"/>
<polygon points="374.35,237.3 374.35,237.5 377.5,228 374.35,217.5 374.35,217.2 387.25,217.2 387.25,217.5 384.1,228 387.25,237.5 387.25,237.3" fill="#5F8FF0" stroke="#2a2a2a" stroke-width="0.72" stroke-linejoin="miter"/>
<line x1="377.5" y1="228" x2="384.1" y2="228" stroke="#D86A40" stroke-width="1"/>
<circle cx="380.8" cy="151.5" r="1.55" fill="none" stroke="#222" stroke-width="1.15"/>
<line x1="412" y1="227" x2="412" y2="233.9" stroke="#222" stroke-width="0.9"/>
<line x1="412" y1="239.6" x2="412" y2="242.25" stroke="#222" stroke-width="0.9"/>
<line x1="408.6" y1="227" x2="415.4" y2="227" stroke="#222" stroke-width="1"/>
<line x1="408.6" y1="242.25" x2="415.4" y2="242.25" stroke="#222" stroke-width="1"/>
<polygon points="405.55,239.6 405.55,241.4 408.7,238.25 405.55,234.2 405.55,233.9 418.45,233.9 418.45,234.2 415.3,238.25 418.45,241.4 418.45,239.6" fill="#5F8FF0" stroke="#2a2a2a" stroke-width="0.72" stroke-linejoin="miter"/>
<line x1="408.7" y1="238.25" x2="415.3" y2="238.25" stroke="#D86A40" stroke-width="1"/>
<line x1="443.2" y1="229.4" x2="443.2" y2="235.6" stroke="#222" stroke-width="0.9"/>
<line x1="443.2" y1="240.5" x2="443.2" y2="241" stroke="#222" stroke-width="0.9"/>
<line x1="439.8" y1="229.4" x2="446.6" y2="229.4" stroke="#222" stroke-width="1"/>
<line x1="439.8" y1="241" x2="446.6" y2="241" stroke="#222" stroke-width="1"/>
<polygon points="436.75,240.5 436.75,242.1 439.9,239.5 436.75,237.3 436.75,235.6 449.65,235.6 449.65,237.3 446.5,239.5 449.65,242.1 449.65,240.5" fill="#5F8FF0" stroke="#2a2a2a" stroke-width="0.72" stroke-linejoin="miter"/>
<line x1="439.9" y1="239.5" x2="446.5" y2="239.5" stroke="#D86A40" stroke-width="1"/>
<line x1="474.4" y1="232.9" x2="474.4" y2="238.4" stroke="#222" stroke-width="0.9"/>
<line x1="474.4" y1="244.2" x2="474.4" y2="244.5" stroke="#222" stroke-width="0.9"/>
<line x1="471" y1="232.9" x2="477.8" y2="232.9" stroke="#222" stroke-width="1"/>
<line x1="471" y1="244.5" x2="477.8" y2="244.5" stroke="#222" stroke-width="1"/>
<polygon points="467.95,244.2 467.95,245.6 471.1,243 467.95,240 467.95,238.4 480.85,238.4 480.85,240 477.7,243 480.85,245.6 480.85,244.2" fill="#5F8FF0" stroke="#2a2a2a" stroke-width="0.72" stroke-linejoin="miter"/>
<line x1="471.1" y1="243" x2="477.7" y2="243" stroke="#D86A40" stroke-width="1"/>
<line x1="505.6" y1="236.5" x2="505.6" y2="238.9" stroke="#222" stroke-width="0.9"/>
<line x1="505.6" y1="243.8" x2="505.6" y2="244.3" stroke="#222" stroke-width="0.9"/>
<line x1="502.2" y1="236.5" x2="509" y2="236.5" stroke="#222" stroke-width="1"/>
<line x1="502.2" y1="244.3" x2="509" y2="244.3" stroke="#222" stroke-width="1"/>
<polygon points="499.15,243.8 499.15,244 502.3,241.2 499.15,238.3 499.15,238.9 512.05,238.9 512.05,238.3 508.9,241.2 512.05,244 512.05,243.8" fill="#5F8FF0" stroke="#2a2a2a" stroke-width="0.72" stroke-linejoin="miter"/>
<line x1="502.3" y1="241.2" x2="508.9" y2="241.2" stroke="#D86A40" stroke-width="1"/>
<circle cx="505.6" cy="225.6" r="1.55" fill="none" stroke="#222" stroke-width="1.15"/>
<line x1="536.8" y1="230.2" x2="536.8" y2="233.8" stroke="#222" stroke-width="0.9"/>
<line x1="536.8" y1="245" x2="536.8" y2="245.5" stroke="#222" stroke-width="0.9"/>
<line x1="533.4" y1="230.2" x2="540.2" y2="230.2" stroke="#222" stroke-width="1"/>
<line x1="533.4" y1="245.5" x2="540.2" y2="245.5" stroke="#222" stroke-width="1"/>
<polygon points="530.35,245 530.35,247 533.5,242 530.35,235.6 530.35,233.8 543.25,233.8 543.25,235.6 540.1,242 543.25,247 543.25,245" fill="#5F8FF0" stroke="#2a2a2a" stroke-width="0.72" stroke-linejoin="miter"/>
<line x1="533.5" y1="242" x2="540.1" y2="242" stroke="#D86A40" stroke-width="1"/>
<circle cx="536.8" cy="214.1" r="1.55" fill="none" stroke="#222" stroke-width="1.15"/>
<rect x="349.6" y="146.25" width="218.9" height="103.95" fill="none" stroke="#666" stroke-width="1.15"/>
<line x1="347.6" y1="248.35" x2="349.6" y2="248.35" stroke="#333" stroke-width="0.8"/>
<text x="346.1" y="251" font-size="7.5" text-anchor="end" fill="#111" stroke="#111" stroke-width="0.28">0.00</text>
<line x1="347.6" y1="231.8" x2="349.6" y2="231.8" stroke="#333" stroke-width="0.8"/>
<text x="346.1" y="234.45" font-size="7.5" text-anchor="end" fill="#111" stroke="#111" stroke-width="0.28">0.25</text>
<line x1="347.6" y1="215.25" x2="349.6" y2="215.25" stroke="#333" stroke-width="0.8"/>
<text x="346.1" y="217.9" font-size="7.5" text-anchor="end" fill="#111" stroke="#111" stroke-width="0.28">0.50</text>
<line x1="347.6" y1="198.7" x2="349.6" y2="198.7" stroke="#333" stroke-width="0.8"/>
<text x="346.1" y="201.35" font-size="7.5" text-anchor="end" fill="#111" stroke="#111" stroke-width="0.28">0.75</text>
<line x1="347.6" y1="182.15" x2="349.6" y2="182.15" stroke="#333" stroke-width="0.8"/>
<text x="346.1" y="184.8" font-size="7.5" text-anchor="end" fill="#111" stroke="#111" stroke-width="0.28">1.00</text>
<line x1="347.6" y1="165.6" x2="349.6" y2="165.6" stroke="#333" stroke-width="0.8"/>
<text x="346.1" y="168.25" font-size="7.5" text-anchor="end" fill="#111" stroke="#111" stroke-width="0.28">1.25</text>
<line x1="347.6" y1="149.05" x2="349.6" y2="149.05" stroke="#333" stroke-width="0.8"/>
<text x="346.1" y="151.7" font-size="7.5" text-anchor="end" fill="#111" stroke="#111" stroke-width="0.28">1.50</text>
<line x1="380.8" y1="250.2" x2="380.8" y2="252.2" stroke="#333" stroke-width="0.8"/>
<line x1="412" y1="250.2" x2="412" y2="252.2" stroke="#333" stroke-width="0.8"/>
<line x1="443.2" y1="250.2" x2="443.2" y2="252.2" stroke="#333" stroke-width="0.8"/>
<line x1="474.4" y1="250.2" x2="474.4" y2="252.2" stroke="#333" stroke-width="0.8"/>
<line x1="505.6" y1="250.2" x2="505.6" y2="252.2" stroke="#333" stroke-width="0.8"/>
<line x1="536.8" y1="250.2" x2="536.8" y2="252.2" stroke="#333" stroke-width="0.8"/>
<text x="379.3" y="265.3" font-size="6.4" text-anchor="middle" fill="#111" textLength="18" lengthAdjust="spacingAndGlyphs" stroke="#111" stroke-width="0.28">(1-50)</text>
<text x="409.25" y="265.3" font-size="6.4" text-anchor="middle" fill="#111" textLength="24.9" lengthAdjust="spacingAndGlyphs" stroke="#111" stroke-width="0.28">(51-100)</text>
<text x="441.5" y="265.3" font-size="6.4" text-anchor="middle" fill="#111" textLength="28.6" lengthAdjust="spacingAndGlyphs" stroke="#111" stroke-width="0.28">(101-150)</text>
<text x="474.75" y="265.3" font-size="6.4" text-anchor="middle" fill="#111" textLength="28.9" lengthAdjust="spacingAndGlyphs" stroke="#111" stroke-width="0.28">(151-200)</text>
<text x="506.6" y="265.3" font-size="6.4" text-anchor="middle" fill="#111" textLength="29.6" lengthAdjust="spacingAndGlyphs" stroke="#111" stroke-width="0.28">(201-250)</text>
<text x="538.1" y="265.3" font-size="6.4" text-anchor="middle" fill="#111" textLength="29.4" lengthAdjust="spacingAndGlyphs" stroke="#111" stroke-width="0.28">(251-300)</text>
<text x="457.7" y="276.7" font-size="8" text-anchor="middle" fill="#222" textLength="26" lengthAdjust="spacingAndGlyphs" stroke="#111" stroke-width="0.28">Models</text>
<text x="0" y="0" font-size="8.1" text-anchor="middle" fill="#222" stroke="#222" stroke-width="0.25" textLength="21" lengthAdjust="spacingAndGlyphs" transform="translate(327.9,198.6) rotate(-90)">Score</text>
<line x1="349.6" y1="382.7" x2="568.5" y2="382.7" stroke="#c8c8c8" stroke-width="0.7" stroke-dasharray="1.2,1.2"/>
<line x1="349.6" y1="364.9" x2="568.5" y2="364.9" stroke="#c8c8c8" stroke-width="0.7" stroke-dasharray="1.2,1.2"/>
<line x1="349.6" y1="347.1" x2="568.5" y2="347.1" stroke="#c8c8c8" stroke-width="0.7" stroke-dasharray="1.2,1.2"/>
<line x1="349.6" y1="329.3" x2="568.5" y2="329.3" stroke="#c8c8c8" stroke-width="0.7" stroke-dasharray="1.2,1.2"/>
<line x1="349.6" y1="311.5" x2="568.5" y2="311.5" stroke="#c8c8c8" stroke-width="0.7" stroke-dasharray="1.2,1.2"/>
<line x1="380.8" y1="295.4" x2="380.8" y2="398.85" stroke="#c8c8c8" stroke-width="0.7" stroke-dasharray="1.2,1.2"/>
<line x1="412" y1="295.4" x2="412" y2="398.85" stroke="#c8c8c8" stroke-width="0.7" stroke-dasharray="1.2,1.2"/>
<line x1="443.2" y1="295.4" x2="443.2" y2="398.85" stroke="#c8c8c8" stroke-width="0.7" stroke-dasharray="1.2,1.2"/>
<line x1="474.4" y1="295.4" x2="474.4" y2="398.85" stroke="#c8c8c8" stroke-width="0.7" stroke-dasharray="1.2,1.2"/>
<line x1="505.6" y1="295.4" x2="505.6" y2="398.85" stroke="#c8c8c8" stroke-width="0.7" stroke-dasharray="1.2,1.2"/>
<line x1="536.8" y1="295.4" x2="536.8" y2="398.85" stroke="#c8c8c8" stroke-width="0.7" stroke-dasharray="1.2,1.2"/>
<line x1="380.8" y1="301.5" x2="380.8" y2="333.5" stroke="#222" stroke-width="0.9"/>
<line x1="380.8" y1="366.4" x2="380.8" y2="393" stroke="#222" stroke-width="0.9"/>
<line x1="377.4" y1="301.5" x2="384.2" y2="301.5" stroke="#222" stroke-width="1"/>
<line x1="377.4" y1="393" x2="384.2" y2="393" stroke="#222" stroke-width="1"/>
<polygon points="374.35,366.4 374.35,360.75 377.5,344.6 374.35,328.1 374.35,333.5 387.25,333.5 387.25,328.1 384.1,344.6 387.25,360.75 387.25,366.4" fill="#6A5ACD" stroke="#2a2a2a" stroke-width="0.72" stroke-linejoin="miter"/>
<line x1="377.5" y1="344.6" x2="384.1" y2="344.6" stroke="#E0603A" stroke-width="1"/>
<line x1="412" y1="299.75" x2="412" y2="328.95" stroke="#222" stroke-width="0.9"/>
<line x1="412" y1="350.5" x2="412" y2="356.3" stroke="#222" stroke-width="0.9"/>
<line x1="408.6" y1="299.75" x2="415.4" y2="299.75" stroke="#222" stroke-width="1"/>
<line x1="408.6" y1="356.3" x2="415.4" y2="356.3" stroke="#222" stroke-width="1"/>
<polygon points="405.55,350.5 405.55,346.8 408.7,337.5 405.55,326.75 405.55,328.95 418.45,328.95 418.45,326.75 415.3,337.5 418.45,346.8 418.45,350.5" fill="#6A5ACD" stroke="#2a2a2a" stroke-width="0.72" stroke-linejoin="miter"/>
<line x1="408.7" y1="337.5" x2="415.3" y2="337.5" stroke="#E0603A" stroke-width="1"/>
<line x1="443.2" y1="325.7" x2="443.2" y2="334.2" stroke="#222" stroke-width="0.9"/>
<line x1="443.2" y1="361.8" x2="443.2" y2="374.25" stroke="#222" stroke-width="0.9"/>
<line x1="439.8" y1="325.7" x2="446.6" y2="325.7" stroke="#222" stroke-width="1"/>
<line x1="439.8" y1="374.25" x2="446.6" y2="374.25" stroke="#222" stroke-width="1"/>
<polygon points="436.75,361.8 436.75,359.6 439.9,344.5 436.75,330.6 436.75,334.2 449.65,334.2 449.65,330.6 446.5,344.5 449.65,359.6 449.65,361.8" fill="#6A5ACD" stroke="#2a2a2a" stroke-width="0.72" stroke-linejoin="miter"/>
<line x1="439.9" y1="344.5" x2="446.5" y2="344.5" stroke="#E0603A" stroke-width="1"/>
<line x1="474.4" y1="340" x2="474.4" y2="357.5" stroke="#222" stroke-width="0.9"/>
<line x1="474.4" y1="385.6" x2="474.4" y2="392.5" stroke="#222" stroke-width="0.9"/>
<line x1="471" y1="340" x2="477.8" y2="340" stroke="#222" stroke-width="1"/>
<line x1="471" y1="392.5" x2="477.8" y2="392.5" stroke="#222" stroke-width="1"/>
<polygon points="467.95,385.6 467.95,385.2 471.1,372.5 467.95,357.8 467.95,357.5 480.85,357.5 480.85,357.8 477.7,372.5 480.85,385.2 480.85,385.6" fill="#6A5ACD" stroke="#2a2a2a" stroke-width="0.72" stroke-linejoin="miter"/>
<line x1="471.1" y1="372.5" x2="477.7" y2="372.5" stroke="#E0603A" stroke-width="1"/>
<line x1="505.6" y1="358.1" x2="505.6" y2="372.6" stroke="#222" stroke-width="0.9"/>
<line x1="505.6" y1="386" x2="505.6" y2="394" stroke="#222" stroke-width="0.9"/>
<line x1="502.2" y1="358.1" x2="509" y2="358.1" stroke="#222" stroke-width="1"/>
<line x1="502.2" y1="394" x2="509" y2="394" stroke="#222" stroke-width="1"/>
<polygon points="499.15,386 499.15,385.7 502.3,377.75 499.15,371.3 499.15,372.6 512.05,372.6 512.05,371.3 508.9,377.75 512.05,385.7 512.05,386" fill="#6A5ACD" stroke="#2a2a2a" stroke-width="0.72" stroke-linejoin="miter"/>
<line x1="502.3" y1="377.75" x2="508.9" y2="377.75" stroke="#E0603A" stroke-width="1"/>
<circle cx="505.6" cy="346.9" r="1.55" fill="none" stroke="#222" stroke-width="1.15"/>
<line x1="536.8" y1="335.6" x2="536.8" y2="351.75" stroke="#222" stroke-width="0.9"/>
<line x1="536.8" y1="382.6" x2="536.8" y2="389.5" stroke="#222" stroke-width="0.9"/>
<line x1="533.4" y1="335.6" x2="540.2" y2="335.6" stroke="#222" stroke-width="1"/>
<line x1="533.4" y1="389.5" x2="540.2" y2="389.5" stroke="#222" stroke-width="1"/>
<polygon points="530.35,382.6 530.35,382.3 533.5,364.1 530.35,348.5 530.35,351.75 543.25,351.75 543.25,348.5 540.1,364.1 543.25,382.3 543.25,382.6" fill="#6A5ACD" stroke="#2a2a2a" stroke-width="0.72" stroke-linejoin="miter"/>
<line x1="533.5" y1="364.1" x2="540.1" y2="364.1" stroke="#E0603A" stroke-width="1"/>
<rect x="349.6" y="295.4" width="218.9" height="103.45" fill="none" stroke="#666" stroke-width="1.15"/>
<line x1="347.6" y1="382.7" x2="349.6" y2="382.7" stroke="#333" stroke-width="0.8"/>
<text x="346.1" y="385.75" font-size="7.5" text-anchor="end" fill="#111" stroke="#111" stroke-width="0.28">0.5</text>
<line x1="347.6" y1="364.9" x2="349.6" y2="364.9" stroke="#333" stroke-width="0.8"/>
<text x="346.1" y="367.95" font-size="7.5" text-anchor="end" fill="#111" stroke="#111" stroke-width="0.28">1.0</text>
<line x1="347.6" y1="347.1" x2="349.6" y2="347.1" stroke="#333" stroke-width="0.8"/>
<text x="346.1" y="350.15" font-size="7.5" text-anchor="end" fill="#111" stroke="#111" stroke-width="0.28">1.5</text>
<line x1="347.6" y1="329.3" x2="349.6" y2="329.3" stroke="#333" stroke-width="0.8"/>
<text x="346.1" y="332.35" font-size="7.5" text-anchor="end" fill="#111" stroke="#111" stroke-width="0.28">2.0</text>
<line x1="347.6" y1="311.5" x2="349.6" y2="311.5" stroke="#333" stroke-width="0.8"/>
<text x="346.1" y="314.55" font-size="7.5" text-anchor="end" fill="#111" stroke="#111" stroke-width="0.28">2.5</text>
<line x1="380.8" y1="398.85" x2="380.8" y2="400.85" stroke="#333" stroke-width="0.8"/>
<line x1="412" y1="398.85" x2="412" y2="400.85" stroke="#333" stroke-width="0.8"/>
<line x1="443.2" y1="398.85" x2="443.2" y2="400.85" stroke="#333" stroke-width="0.8"/>
<line x1="474.4" y1="398.85" x2="474.4" y2="400.85" stroke="#333" stroke-width="0.8"/>
<line x1="505.6" y1="398.85" x2="505.6" y2="400.85" stroke="#333" stroke-width="0.8"/>
<line x1="536.8" y1="398.85" x2="536.8" y2="400.85" stroke="#333" stroke-width="0.8"/>
<text x="379.3" y="413.2" font-size="6.4" text-anchor="middle" fill="#111" textLength="18" lengthAdjust="spacingAndGlyphs" stroke="#111" stroke-width="0.28">(1-50)</text>
<text x="409.25" y="413.2" font-size="6.4" text-anchor="middle" fill="#111" textLength="24.9" lengthAdjust="spacingAndGlyphs" stroke="#111" stroke-width="0.28">(51-100)</text>
<text x="441.5" y="413.2" font-size="6.4" text-anchor="middle" fill="#111" textLength="28.6" lengthAdjust="spacingAndGlyphs" stroke="#111" stroke-width="0.28">(101-150)</text>
<text x="474.75" y="413.2" font-size="6.4" text-anchor="middle" fill="#111" textLength="28.9" lengthAdjust="spacingAndGlyphs" stroke="#111" stroke-width="0.28">(151-200)</text>
<text x="506.6" y="413.2" font-size="6.4" text-anchor="middle" fill="#111" textLength="29.6" lengthAdjust="spacingAndGlyphs" stroke="#111" stroke-width="0.28">(201-250)</text>
<text x="538.1" y="413.2" font-size="6.4" text-anchor="middle" fill="#111" textLength="29.4" lengthAdjust="spacingAndGlyphs" stroke="#111" stroke-width="0.28">(251-300)</text>
<text x="457.7" y="424.9" font-size="8" text-anchor="middle" fill="#222" textLength="26" lengthAdjust="spacingAndGlyphs" stroke="#111" stroke-width="0.28">Models</text>
<text x="0" y="0" font-size="8.1" text-anchor="middle" fill="#222" stroke="#222" stroke-width="0.25" textLength="21" lengthAdjust="spacingAndGlyphs" transform="translate(327.9,346.4) rotate(-90)">Score</text>
<text x="606.6" y="51.1" font-size="10.6" text-anchor="start" fill="#222" textLength="25.6" lengthAdjust="spacingAndGlyphs" stroke="#222" stroke-width="0.12">Mean</text>
<text x="604.8" y="199.8" font-size="10.6" text-anchor="start" fill="#222" textLength="37.2" lengthAdjust="spacingAndGlyphs" stroke="#222" stroke-width="0.12">Median</text>
<text x="606.6" y="348.1" font-size="10.6" text-anchor="start" fill="#222" textLength="29.1" lengthAdjust="spacingAndGlyphs" stroke="#222" stroke-width="0.12">Stdev</text>
<text x="74.5" y="453.5" font-size="12.8" text-anchor="start" fill="#222" textLength="19" lengthAdjust="spacingAndGlyphs" stroke="#222" stroke-width="0.12">(A)</text>
<text x="233.4" y="453.5" font-size="12.8" text-anchor="start" fill="#222" textLength="19.1" lengthAdjust="spacingAndGlyphs" stroke="#222" stroke-width="0.12">(B)</text>
<text x="449" y="453.5" font-size="12.8" text-anchor="start" fill="#222" textLength="19.4" lengthAdjust="spacingAndGlyphs" stroke="#222" stroke-width="0.12">(C)</text>
</svg>
</body></html>
